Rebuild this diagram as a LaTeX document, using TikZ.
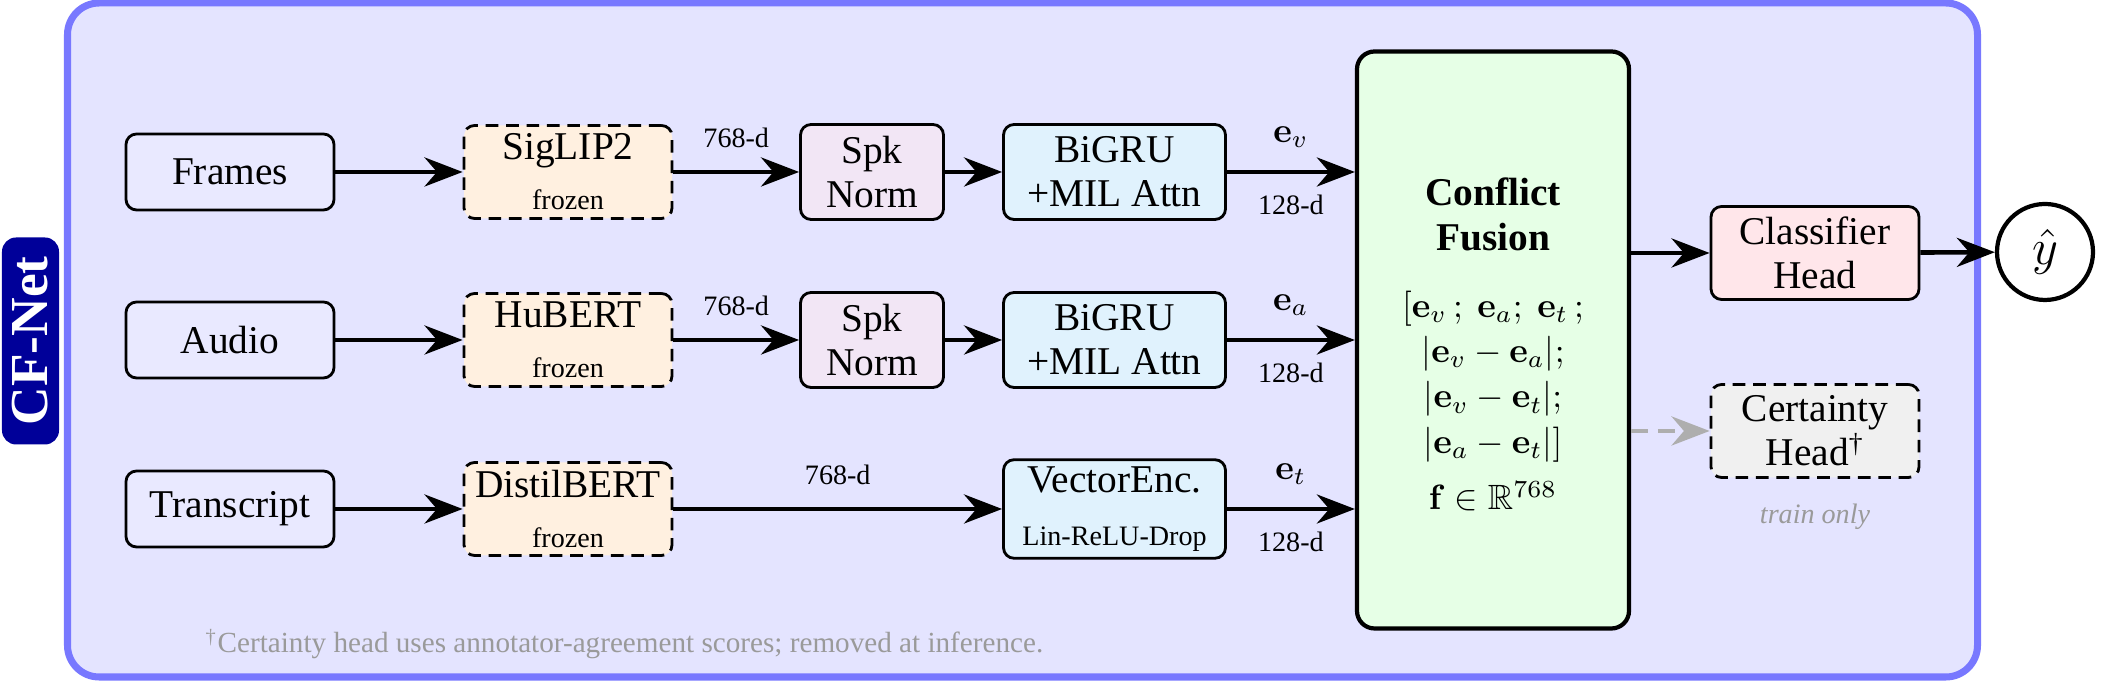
\documentclass[tikz,border=0pt]{standalone}
\usepackage{amsmath,amssymb}
\usepackage[no-math]{fontspec}
\setmainfont{Liberation Serif}
\usetikzlibrary{arrows.meta,positioning,calc}
\definecolor{panelbg}{HTML}{E4E4FF}
\definecolor{panelline}{HTML}{7878FF}
\definecolor{tagblue}{HTML}{000099}
\definecolor{srcfill}{HTML}{E9E9FF}
\definecolor{frzfill}{HTML}{FFF0E0}
\definecolor{spkfill}{HTML}{F2E6F5}
\definecolor{seqfill}{HTML}{E0F2FD}
\definecolor{fusefill}{HTML}{E6FFE6}
\definecolor{clsfill}{HTML}{FFE6EA}
\definecolor{certfill}{HTML}{F0F0F0}
\definecolor{note}{HTML}{9A9A9A}
\newcommand{\mathsz}{\fontsize{10}{12}\selectfont}

\begin{document}
\begin{tikzpicture}[
  >=Stealth,
  font=\fontsize{11.2}{12.6}\selectfont,
  panel/.style={draw=panelline, fill=panelbg, line width=2pt, rounded corners=9pt},
  tag/.style={fill=tagblue, text=white, rounded corners=4pt, rotate=90, minimum width=2.07cm, minimum height=0.57cm, inner sep=0pt, font=\fontsize{15.2}{17}\selectfont\bfseries},
  blk/.style={draw, thick, rounded corners=3pt, inner sep=2pt, align=center},
  src/.style={blk, fill=srcfill, minimum width=2.08cm, minimum height=0.76cm},
  frz/.style={blk, fill=frzfill, dash pattern=on 3.6pt off 2.2pt, minimum width=2.08cm, minimum height=0.93cm},
  spk/.style={blk, fill=spkfill, minimum width=1.43cm, minimum height=0.95cm},
  seq/.style={blk, fill=seqfill, minimum width=2.22cm, minimum height=0.95cm},
  fuse/.style={blk, very thick, fill=fusefill, rounded corners=5pt, minimum width=2.72cm, minimum height=5.77cm},
  head/.style={blk, minimum width=2.08cm, minimum height=0.93cm},
  arr/.style={-{Stealth[length=3.8mm,width=2.9mm]}, line width=1.3pt},
  dim/.style={font=\footnotesize},
  emb/.style={font=\mathsz},
]
\useasboundingbox (0,0) rectangle (21.04,6.82);

\draw[panel] (0.675,0.05) rectangle (19.775,6.79);
\node[tag] (cfnet) at (0.305,3.41) {CF-Net};

\node[src] (frames) at (2.30,5.10) {Frames};
\node[src] (audio) at (2.30,3.42) {Audio};
\node[src] (trans) at (2.30,1.73) {Transcript};

\node[frz] (siglip) at (5.68,5.10) {SigLIP2\\[1.6pt]{\footnotesize frozen}};
\node[frz] (hubert) at (5.68,3.42) {HuBERT\\[1.6pt]{\footnotesize frozen}};
\node[frz] (distil) at (5.68,1.73) {DistilBERT\\[1.6pt]{\footnotesize frozen}};

\node[spk] (spkv) at (8.72,5.10) {Spk\\Norm};
\node[spk] (spka) at (8.72,3.42) {Spk\\Norm};

\node[seq] (gruv) at (11.145,5.10) {BiGRU\\+MIL Attn};
\node[seq] (grua) at (11.145,3.42) {BiGRU\\+MIL Attn};
\node[seq] (vecenc) at (11.145,1.73) {VectorEnc.\\[2.4pt]{\footnotesize Lin-ReLU-Drop}};

\node[fuse] (fusion) at (14.93,3.42) {\rule{0pt}{10.5pt}\textbf{Conflict}\\\textbf{Fusion}\\[6.5pt]
  {\mathsz$[\mathbf{e}_v\,;\ \mathbf{e}_a;\ \mathbf{e}_t\,;$}\\[0.3pt]
  {\mathsz$|\mathbf{e}_v-\mathbf{e}_a|;$}\\[0.3pt]
  {\mathsz$|\mathbf{e}_v-\mathbf{e}_t|;$}\\[0.3pt]
  {\mathsz$|\mathbf{e}_a-\mathbf{e}_t|]$}\\[3.5pt]
  {\mathsz$\mathbf{f}\in\mathbb{R}^{768}$}};

\node[head, fill=clsfill] (cls) at (18.15,4.29) {Classifier\\Head};
\node[head, fill=certfill, dash pattern=on 3.6pt off 2.2pt] (cert) at (18.15,2.51) {Certainty\\Head\textsuperscript{\textdagger}};
\node[font=\footnotesize\itshape, text=note] (trainonly) at (18.15,1.65) {train only};
\node[draw, very thick, circle, fill=white, minimum size=0.96cm, inner sep=0pt, font=\fontsize{13.5}{15}\selectfont] (yhat) at (20.45,4.30) {$\hat{y}$};

\node[font=\fontsize{8.3}{10}\selectfont, text=note, anchor=base west, inner sep=0pt] (fnote) at (2.05,0.29) {\textsuperscript{\textdagger}Certainty head uses annotator-agreement scores; removed at inference.};

\draw[arr] (frames) -- (siglip);
\draw[arr] (audio) -- (hubert);
\draw[arr] (trans) -- (distil);

\draw[arr] (siglip) -- node[dim, above=3pt]{768-d} (spkv);
\draw[arr] (hubert) -- node[dim, above=3pt]{768-d} (spka);
\draw[arr] (distil) -- node[dim, above=3pt]{768-d} (vecenc);

\draw[arr] (spkv) -- (gruv);
\draw[arr] (spka) -- (grua);

\draw[arr] (gruv) -- node[emb, above=3pt]{$\mathbf{e}_v$} node[dim, below=2.5pt]{128-d} (gruv -| fusion.west);
\draw[arr] (grua) -- node[emb, above=3pt]{$\mathbf{e}_a$} node[dim, below=2.5pt]{128-d} (grua -| fusion.west);
\draw[arr] (vecenc) -- node[emb, above=3pt]{$\mathbf{e}_t$} node[dim, below=2.5pt]{128-d} (vecenc -| fusion.west);

\draw[arr] (fusion.east |- cls) -- (cls);
\draw[arr] (cls) -- (yhat);
\draw[arr, draw=note!80, dash pattern=on 4.8pt off 2.8pt] (fusion.east |- cert) -- (cert);

\end{tikzpicture}
\end{document}
